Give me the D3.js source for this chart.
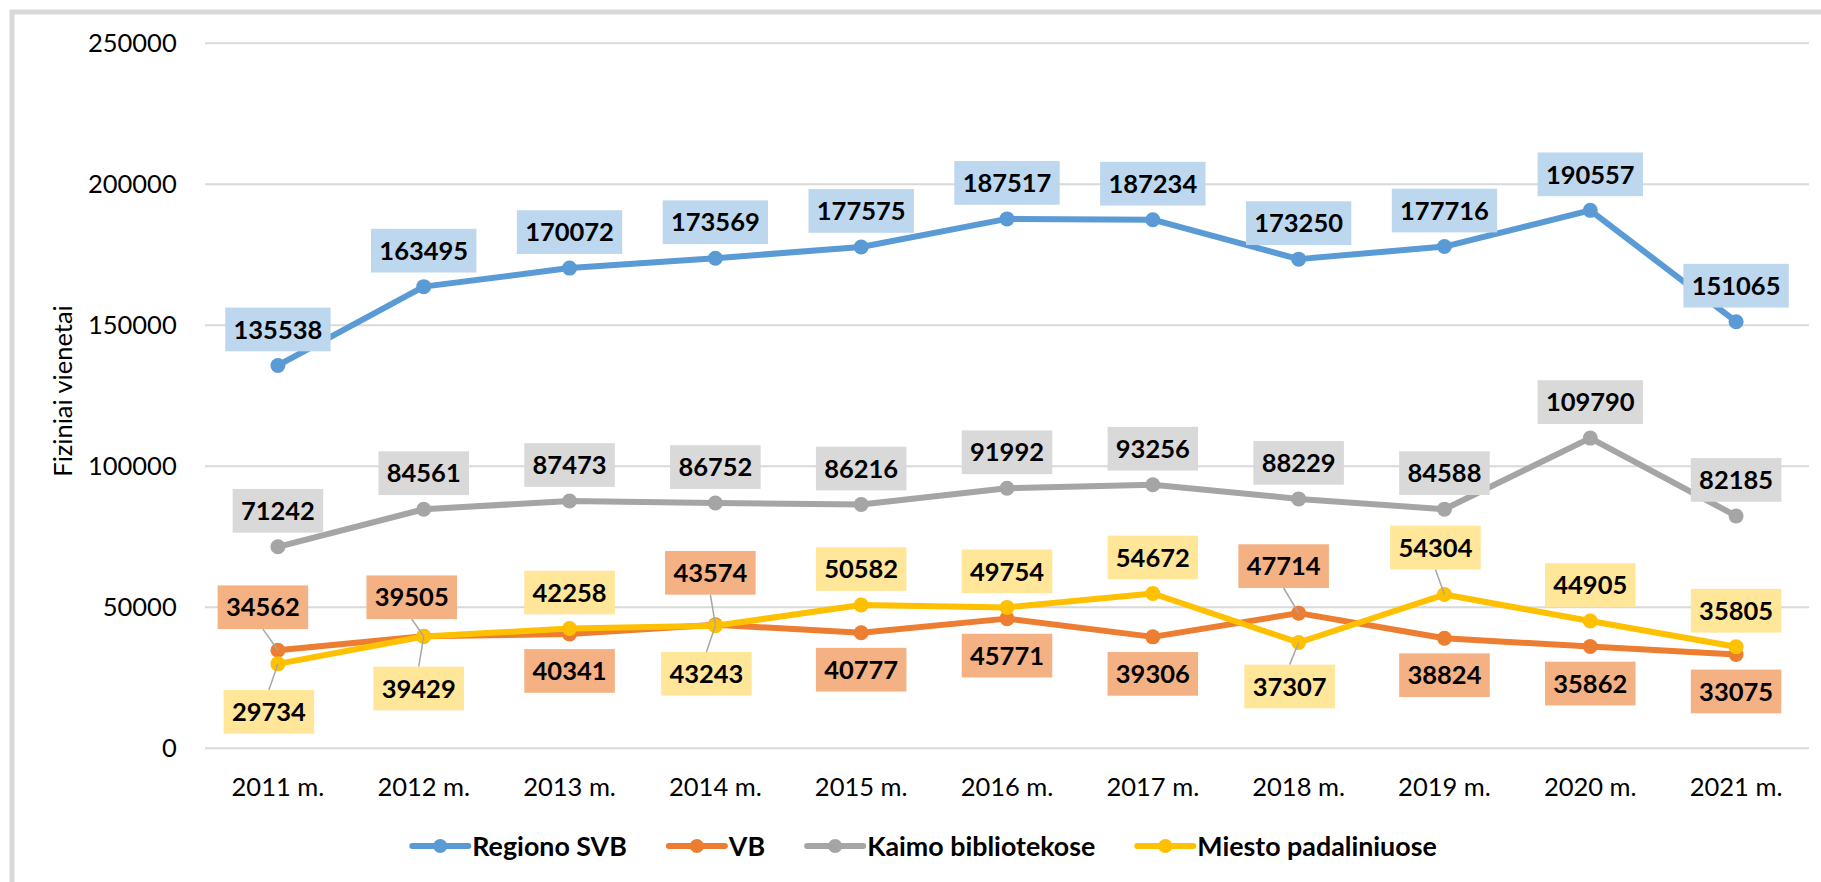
<!DOCTYPE html>
<html>
<head>
<meta charset="utf-8">
<script src="https://cdn.jsdelivr.net/npm/d3@7"></script>
<style>
  body { margin: 0; background: #fff; }
  text { font-family: Lato, "Open Sans", sans-serif; }
</style>
</head>
<body>
<script>
// data
var years = ["2011 m.", "2012 m.", "2013 m.", "2014 m.", "2015 m.", "2016 m.",
             "2017 m.", "2018 m.", "2019 m.", "2020 m.", "2021 m."];
var regionoSVB = [135538, 163495, 170072, 173569, 177575, 187517, 187234, 173250, 177716, 190557, 151065];
var vb         = [34562, 39505, 40341, 43574, 40777, 45771, 39306, 47714, 38824, 35862, 33075];
var kaimo      = [71242, 84561, 87473, 86752, 86216, 91992, 93256, 88229, 84588, 109790, 82185];
var miesto     = [29734, 39429, 42258, 43243, 50582, 49754, 54672, 37307, 54304, 44905, 35805];
var yTicks     = [0, 50000, 100000, 150000, 200000, 250000];
var seriesNames = ["Regiono SVB", "VB", "Kaimo bibliotekose", "Miesto padaliniuose"];

// label placement: "a" above, "b" below, or [dx, dy] where the label was dragged
var svbPlace    = ["a","a","a","a","a","a","a","a","a","a","a"];
var vbPlace     = [[-15,-43],[-12,-39],"b",[-5,-52],"b","b","b",[-15,-47],"b","b","b"];
var kaimoPlace  = ["a","a","a","a","a","a","a","a","a","a","a"];
var miestoPlace = [[-9,48],[-5,52],"a",[-9,48],"a","a","a",[-9,44],[-9,-47],"a","a"];

var lineColors  = ["#5b9bd5", "#ed7d31", "#a5a5a5", "#ffc000"];
var labelFills  = ["#bdd7ee", "#f4b183", "#d9d9d9", "#ffe699"];

var width = 1821, height = 882;
var plotLeft = 205, plotRight = 1809, plotTop = 42.7, plotBottom = 747.7;
var fontSize = 25.5;

var series = [
  {name: seriesNames[0], values: regionoSVB, place: svbPlace},
  {name: seriesNames[1], values: vb, place: vbPlace},
  {name: seriesNames[2], values: kaimo, place: kaimoPlace},
  {name: seriesNames[3], values: miesto, place: miestoPlace}
];
series.forEach(function(s, i) { s.color = lineColors[i]; s.fill = labelFills[i]; });

var svg = d3.select("body").append("svg")
  .attr("width", width).attr("height", height);

// chart frame
svg.append("rect")
  .attr("x", 12).attr("y", 12)
  .attr("width", width + 20).attr("height", height + 20)
  .attr("fill", "#fff")
  .attr("stroke", "#d9d9d9")
  .attr("stroke-width", 5);

var x = d3.scaleBand().domain(years).range([plotLeft, plotRight]);
var y = d3.scaleLinear().domain([0, 250000]).range([plotBottom, plotTop]);
function cx(i) { return x(years[i]) + x.bandwidth() / 2; }

// y axis + gridlines
var yAxis = svg.append("g")
  .attr("transform", "translate(" + plotLeft + ",0)")
  .call(d3.axisLeft(y).tickValues(yTicks).tickSize(-(plotRight - plotLeft)).tickPadding(28.3).tickFormat(d3.format("d")));
yAxis.select(".domain").remove();
yAxis.selectAll("line").attr("stroke", "#d9d9d9").attr("stroke-width", 2);
yAxis.selectAll("text")
  .attr("font-size", fontSize + "px")
  .attr("fill", "#000")
  .attr("dy", "0.36em")
  .style("font-family", "Lato, sans-serif");

// x axis
var xAxis = svg.append("g")
  .attr("transform", "translate(0," + plotBottom + ")")
  .call(d3.axisBottom(x).tickSize(0).tickPadding(30));
xAxis.select(".domain").remove();
xAxis.selectAll("text")
  .attr("font-size", fontSize + "px")
  .attr("fill", "#000")
  .style("font-family", "Lato, sans-serif");

// y title
svg.append("text")
  .attr("transform", "translate(63,391) rotate(-90)")
  .attr("text-anchor", "middle")
  .attr("dy", "0.36em")
  .attr("font-size", fontSize + "px")
  .attr("fill", "#000")
  .text("Fiziniai vienetai");

// lines and markers
var line = d3.line()
  .x(function(d, i) { return cx(i); })
  .y(function(d) { return y(d); });

series.forEach(function(s) {
  svg.append("path")
    .datum(s.values)
    .attr("d", line)
    .attr("fill", "none")
    .attr("stroke", s.color)
    .attr("stroke-width", 6)
    .attr("stroke-linejoin", "round")
    .attr("stroke-linecap", "round");
  svg.selectAll(null).data(s.values).enter()
    .append("circle")
    .attr("cx", function(d, i) { return cx(i); })
    .attr("cy", function(d) { return y(d); })
    .attr("r", 7.5)
    .attr("fill", s.color);
});

// data labels
var boxH = 43.7, padX = 8.3;
var labelLayer = svg.append("g");
series.forEach(function(s) {
  s.values.forEach(function(v, i) {
    var p = s.place[i];
    var dx = 0, dy = 0, moved = false;
    if (p === "a") dy = -36;
    else if (p === "b") dy = 37;
    else { dx = p[0]; dy = p[1]; moved = true; }
    var px = cx(i), py = y(v);
    var lx = px + dx, ly = py + dy;

    var g = labelLayer.append("g");
    var rect = g.append("rect").attr("fill", s.fill);
    var t = g.append("text")
      .attr("x", lx).attr("y", ly)
      .attr("dy", "0.36em")
      .attr("text-anchor", "middle")
      .attr("font-size", fontSize + "px")
      .attr("font-weight", "bold")
      .attr("fill", "#000")
      .text(v);
    var w = t.node().getComputedTextLength() + padX * 2;
    rect.attr("x", lx - w / 2).attr("y", ly - boxH / 2)
      .attr("width", w).attr("height", boxH);

    if (moved) {
      var ey = dy < 0 ? ly + boxH / 2 : ly - boxH / 2;
      labelLayer.insert("line", ":first-child")
        .attr("x1", lx).attr("y1", ey)
        .attr("x2", px).attr("y2", py)
        .attr("stroke", "#a6a6a6")
        .attr("stroke-width", 1.5);
    }
  });
});

// legend
var legend = svg.append("g");
var lgY = 846, lineLen = 56, gapText = 4, gapItem = 42;
var cursor = 0;
series.forEach(function(s) {
  var g = legend.append("g");
  g.append("line")
    .attr("x1", 0).attr("x2", lineLen)
    .attr("y1", 0).attr("y2", 0)
    .attr("stroke", s.color).attr("stroke-width", 6)
    .attr("stroke-linecap", "round");
  g.append("circle").attr("cx", lineLen / 2).attr("cy", 0).attr("r", 7).attr("fill", s.color);
  var t = g.append("text")
    .attr("x", lineLen + gapText).attr("y", 0)
    .attr("dy", "0.36em")
    .attr("font-size", "26.8px")
    .attr("font-weight", "bold")
    .attr("fill", "#000")
    .text(s.name);
  var w = lineLen + gapText + t.node().getComputedTextLength();
  g.attr("transform", "translate(" + cursor + ",0)");
  cursor += w + gapItem;
});
var total = cursor - gapItem;
legend.attr("transform", "translate(" + (924.5 - total / 2) + "," + lgY + ")");
</script>
</body>
</html>
